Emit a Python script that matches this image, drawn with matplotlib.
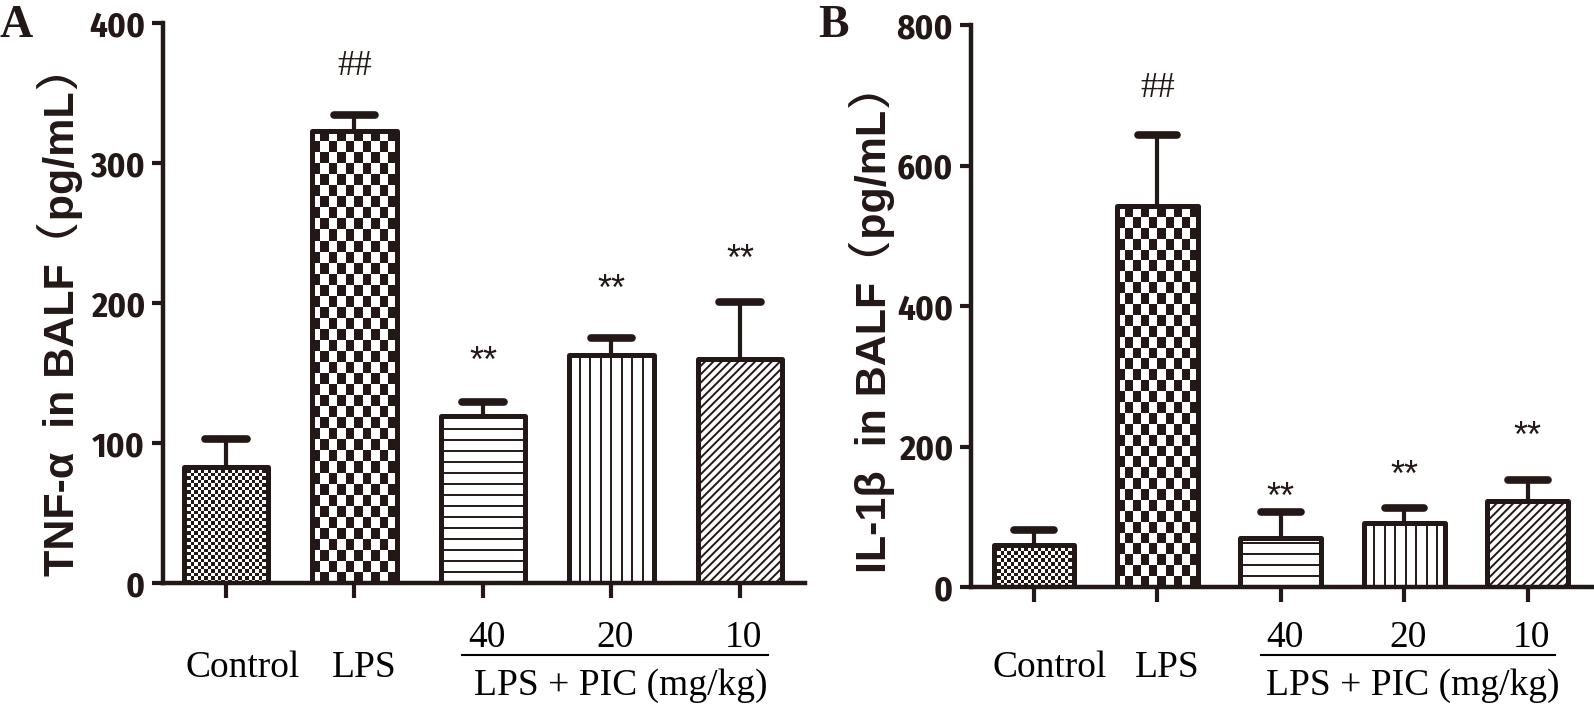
import numpy as np
import matplotlib
matplotlib.use('Agg')
import matplotlib.pyplot as plt
from matplotlib.colors import ListedColormap
from matplotlib.transforms import blended_transform_factory

INK = '#231815'

# data
groups = ['Control', 'LPS', '40', '20', '10']
tnf_mean = [83, 323, 119, 163, 160]
tnf_err = [20, 11, 10, 12, 41]
il1b_mean = [60, 542, 70, 91, 123]
il1b_err = [21, 102, 37, 21, 29]
sig_marks = ['', '##', '**', '**', '**']
tnf_mark_y = [0, 371, 168, 220, 241]
il1b_mark_y = [0, 715, 148, 179, 235]
tnf_ticks = [0, 100, 200, 300, 400]
il1b_ticks = [0, 200, 400, 600, 800]

NARROW = ['Fira Sans Condensed', 'Barlow Condensed', 'Liberation Sans']
# latin glyphs from Liberation Sans, full-width brackets from a CJK font
LABEL = ['Liberation Sans', 'BIZ UDGothic', 'Noto Sans CJK SC', 'DejaVu Sans']
SANS = ['Liberation Sans', 'DejaVu Sans']
SERIF = ['Liberation Serif', 'DejaVu Serif']

plt.rcParams['hatch.linewidth'] = 1.4

W, H = 1594, 717
fig = plt.figure(figsize=(W / 100, H / 100), dpi=100)


def px_per_unit(ax):
    p0 = ax.transData.transform((0, 0))
    p1 = ax.transData.transform((1, 1))
    return p1[0] - p0[0], p1[1] - p0[1]


def checker(ax, bar, cw, ch):
    x0, w, h = bar.get_x(), bar.get_width(), bar.get_height()
    sx, sy = px_per_unit(ax)
    nx = max(1, round(w * sx / cw))
    ny = max(1, round(h * sy / ch))
    img = np.add.outer(np.arange(ny), np.arange(nx)) % 2
    im = ax.imshow(img, extent=(x0, x0 + w, 0, h), origin='lower',
                   cmap=ListedColormap(['white', INK]), interpolation='nearest',
                   aspect='auto', zorder=2)
    im.set_clip_path(bar)


def stripes(ax, bar, gap, vertical):
    x0, w, h = bar.get_x(), bar.get_width(), bar.get_height()
    sx, sy = px_per_unit(ax)
    if vertical:
        xs = np.arange(x0 + gap / sx, x0 + w, gap / sx)
        lc = ax.vlines(xs, 0, h, color=INK, lw=1.4, zorder=2)
    else:
        ys = np.arange(gap / sy, h, gap / sy)
        lc = ax.hlines(ys, x0, x0 + w, color=INK, lw=1.4, zorder=2)
    lc.set_clip_path(bar)


def panel(rect, xlim, means, errs, mark_y, ticks, ylab, ylab_pos, letter, letter_x):
    ax = fig.add_axes(rect)
    x = np.arange(len(groups))
    ax.set_xlim(*xlim)
    ax.set_ylim(0, ticks[-1])

    # error bars (upper only), drawn under the bars
    means = np.array(means)
    errs = np.array(errs)
    ax.vlines(x, means, means + errs, color=INK, lw=3, zorder=1)
    ax.hlines(means + errs, x - 0.16, x + 0.16, color=INK, lw=5.5,
              capstyle='round', zorder=1)

    bars = ax.bar(x, means, width=0.655, facecolor='none', edgecolor=INK,
                  linewidth=3.6, zorder=3, joinstyle='round')
    checker(ax, bars[0], 3.4, 3.4)
    checker(ax, bars[1], 8.5, 11)
    stripes(ax, bars[2], 11, vertical=False)
    stripes(ax, bars[3], 10.5, vertical=True)
    bars[4].set_hatch('////')

    # significance marks, placed by the centre of the glyphs
    for xi, m, my in zip(x, sig_marks, mark_y):
        if m == '##':
            ax.annotate(m, (xi, my), xytext=(0, -0.34 * 25), textcoords='offset points',
                        ha='center', va='baseline', fontsize=25, family=SERIF, color=INK)
        elif m:
            ax.annotate(m, (xi, my), xytext=(0, -0.68 * 26), textcoords='offset points',
                        ha='center', va='baseline', fontsize=26, family=SANS, color=INK)

    for side in ['top', 'right']:
        ax.spines[side].set_visible(False)
    for side in ['left', 'bottom']:
        ax.spines[side].set_linewidth(3.2)
        ax.spines[side].set_color(INK)

    ax.set_yticks(ticks)
    ax.set_yticklabels([str(t) for t in ticks], fontsize=25, fontweight='bold',
                       family=NARROW, color=INK)
    ax.tick_params(axis='y', length=8, width=3, color=INK, pad=5)
    ax.set_xticks(x)
    ax.set_xticklabels([])
    ax.tick_params(axis='x', length=11, width=3, color=INK)

    # category labels, baselines given in pixels from the top of the figure
    tr = blended_transform_factory(ax.transData, fig.transFigure)
    ax.text(0.13, 1 - 677 / H, groups[0], transform=tr, ha='center', va='baseline',
            fontsize=27, family=SERIF, color='black')
    ax.text(1.08, 1 - 677 / H, groups[1], transform=tr, ha='center', va='baseline',
            fontsize=27, family=SERIF, color='black')
    for xi in x[2:]:
        ax.text(xi + 0.03, 1 - 647 / H, groups[xi], transform=tr, ha='center',
                va='baseline', fontsize=27, family=SERIF, color='black')
    ax.plot([1.84, 4.22], [1 - 655 / H, 1 - 655 / H], transform=tr, color='black',
            lw=1.5, clip_on=False)
    ax.text(3.07, 1 - 695 / H, 'LPS + PIC (mg/kg)', transform=tr, ha='center',
            va='baseline', fontsize=27, family=SERIF, color='black')

    fig.text(ylab_pos[0] / W, 1 - ylab_pos[1] / H, ylab, rotation=90,
             rotation_mode='anchor', ha='left', va='baseline', fontsize=31,
             fontweight='bold', family=LABEL, color=INK)
    fig.text(letter_x, 1 - 5 / H, letter, ha='left', va='top', fontsize=33,
             fontweight='bold', family=SERIF, color=INK)
    return ax


panel([163 / W, 1 - 583 / H, 642 / W, 560 / H], (-0.49, 4.506),
      tnf_mean, tnf_err, tnf_mark_y, tnf_ticks,
      'TNF-α  in BALF（pg/mL）', (74, 576), 'A', 0.0)
panel([971 / W, 1 - 587 / H, 621 / W, 562 / H], (-0.51, 4.52),
      il1b_mean, il1b_err, il1b_mark_y, il1b_ticks,
      'IL-1β  in BALF（pg/mL）', (886, 573), 'B', 818 / W)

fig.savefig('out.png', dpi=100)
